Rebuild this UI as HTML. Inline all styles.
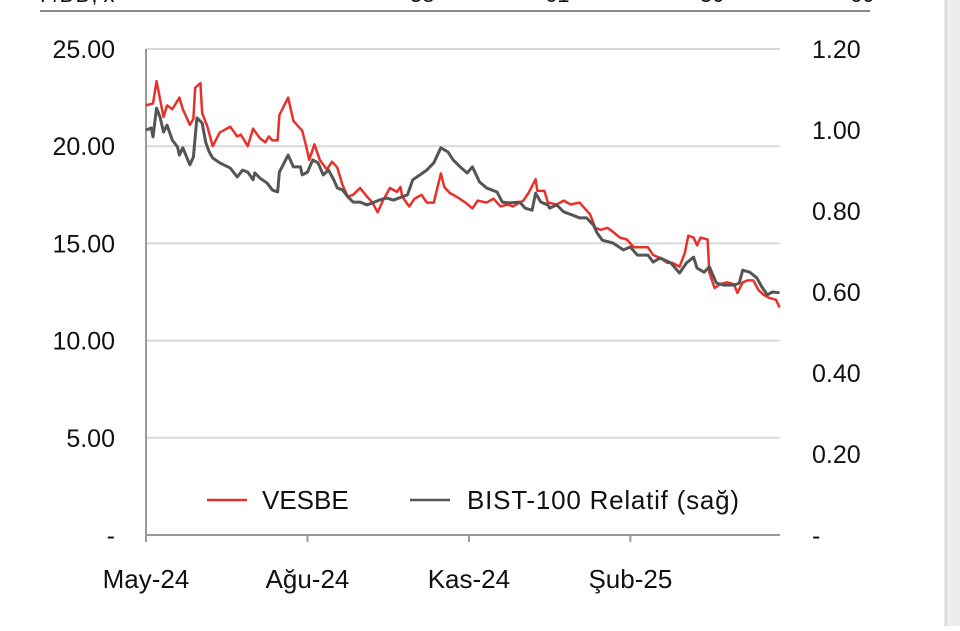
<!DOCTYPE html>
<html><head><meta charset="utf-8"><style>
body{margin:0;background:#fff;}
svg text{font-family:"Liberation Sans",sans-serif;fill:#111;}
</style></head><body>
<svg width="960" height="626" viewBox="0 0 960 626" xmlns="http://www.w3.org/2000/svg">
<text x="40" y="2" font-size="22">F/DD, x</text>
<text x="410" y="2" font-size="22">58</text>
<text x="545" y="2" font-size="22">61</text>
<text x="700" y="2" font-size="22">50</text>
<text x="850" y="2" font-size="22">60</text>
<line x1="40" y1="11" x2="870" y2="11" stroke="#888" stroke-width="2"/>
<rect x="944" y="0" width="16" height="626" fill="#ececec"/>
<line x1="946" y1="0" x2="946" y2="626" stroke="#c8c8c8" stroke-width="1"/>
<g id="grid"></g><g id="axes"></g><g id="series"></g>
<g>
<line x1="207" y1="500" x2="247" y2="500" stroke="#e8312a" stroke-width="2.5"/>
<text x="262" y="509" font-size="26">VESBE</text>
<line x1="410" y1="500" x2="450" y2="500" stroke="#555" stroke-width="2.5"/>
<text x="467" y="509" font-size="26" textLength="272">BIST-100 Relatif (sağ)</text>
</g>
</svg>
<script>
const leftTicks=[0,5,10,15,20,25];
const leftTickLabels=["-","5.00","10.00","15.00","20.00","25.00"];
const rightTicks=[0,0.2,0.4,0.6,0.8,1.0,1.2];
const rightTickLabels=["-","0.20","0.40","0.60","0.80","1.00","1.20"];
const xTickDays=[0,92,184,276];
const xTickLabels=["May-24","Ağu-24","Kas-24","Şub-25"];
const vesbeDays=[0,4,6,10,12,15,19,21,25,27,28,31,32,35,38,42,48,52,54,58,61,65,68,70,72,75,76,81,84,89,91,93,96,99,103,106,109,112,115,118,122,126,129,132,135,139,143,145,146,150,153,157,160,164,168,170,173,177,182,186,189,194,198,202,206,209,215,218,222,223,227,229,234,238,242,247,250,253,256,259,263,266,270,274,278,282,286,289,293,297,300,304,307,309,312,314,316,320,321,324,327,331,335,337,340,343,346,349,352,355,359,361];
const vesbeValues=[22.1,22.2,23.35,21.5,22.1,21.9,22.5,21.9,21.1,21.4,23.0,23.25,21.7,21.0,20.0,20.7,21.0,20.5,20.6,20.0,20.9,20.4,20.2,20.5,20.3,20.3,21.6,22.5,21.3,20.8,20.1,19.3,20.1,19.3,18.8,19.2,18.9,18.0,17.4,17.5,17.85,17.4,17.1,16.6,17.2,17.85,17.65,17.9,17.4,16.9,17.3,17.5,17.1,17.1,18.6,17.9,17.6,17.4,17.1,16.8,17.2,17.1,17.3,16.9,17.0,16.9,17.2,17.6,18.3,17.7,17.7,17.1,17.0,17.2,17.0,17.1,16.8,16.5,15.8,15.7,15.8,15.6,15.3,15.2,14.8,14.8,14.8,14.4,14.25,14.0,14.0,13.8,14.5,15.4,15.3,14.9,15.3,15.2,13.5,12.7,12.9,13.0,12.9,12.45,13.0,13.1,13.1,12.6,12.35,12.2,12.1,11.7];
const bistDays=[0,3,4,6,8,10,12,15,18,19,21,25,27,29,32,34,36,38,42,48,52,55,58,61,62,65,69,72,75,76,81,84,88,89,92,95,98,101,104,107,109,112,115,118,122,126,129,133,137,141,146,149,152,156,160,164,168,172,175,179,183,186,190,194,200,203,207,213,216,220,222,225,229,230,234,238,243,247,251,255,257,260,266,272,276,280,286,289,293,299,304,308,312,314,318,321,325,329,335,338,340,344,348,351,354,357,361];
const bistValues=[1.00,1.005,0.983,1.054,1.032,0.995,1.012,0.975,0.958,0.938,0.956,0.914,0.933,1.030,1.017,0.970,0.946,0.931,0.919,0.906,0.884,0.901,0.896,0.877,0.894,0.881,0.869,0.852,0.847,0.896,0.938,0.909,0.909,0.889,0.896,0.926,0.919,0.889,0.901,0.877,0.857,0.852,0.835,0.822,0.822,0.815,0.820,0.827,0.832,0.827,0.835,0.840,0.877,0.889,0.901,0.919,0.956,0.946,0.926,0.909,0.894,0.909,0.872,0.857,0.847,0.822,0.820,0.822,0.807,0.802,0.844,0.822,0.815,0.807,0.815,0.798,0.790,0.783,0.783,0.765,0.746,0.728,0.721,0.704,0.711,0.691,0.691,0.674,0.684,0.672,0.647,0.672,0.686,0.659,0.649,0.662,0.622,0.617,0.617,0.622,0.654,0.649,0.635,0.612,0.593,0.600,0.598];

const NS="http://www.w3.org/2000/svg";
const X0=146,PXD=1.755,Y0=535,TOP=49;
const xS=d=>X0+d*PXD;
const yL=v=>Y0-(v/25)*(Y0-TOP);
const yR=v=>Y0-(v/1.2)*(Y0-TOP);
function mk(tag,attrs,parent){const e=document.createElementNS(NS,tag);for(const k in attrs)e.setAttribute(k,attrs[k]);parent.appendChild(e);return e;}
const grid=document.getElementById('grid'),axes=document.getElementById('axes'),series=document.getElementById('series');
leftTicks.forEach((t,i)=>{
  if(t>0){const g=mk('line',{x1:X0,x2:780,y1:yL(t),y2:yL(t),stroke:'#d9d9d9','stroke-width':2},grid);
  
  }
  const tx=mk('text',{x:115,y:yL(t)+9,'font-size':25,'text-anchor':'end'},axes);tx.textContent=leftTickLabels[i];
  
  
});
rightTicks.forEach((t,i)=>{
  const tx=mk('text',{x:812,y:yR(t)+9,'font-size':25},axes);tx.textContent=rightTickLabels[i];
  
  
});
const ya=mk('line',{x1:X0,x2:X0,y1:TOP,y2:541,stroke:'#999','stroke-width':2},axes);


const xa=mk('line',{x1:X0,x2:780,y1:Y0,y2:Y0,stroke:'#999','stroke-width':2},axes);


xTickDays.forEach((d,i)=>{
  const tk=mk('line',{x1:xS(d),x2:xS(d),y1:Y0,y2:542,stroke:'#999','stroke-width':2},axes);
  
  
  const tx=mk('text',{x:xS(d),y:588,'font-size':26,'text-anchor':'middle'},axes);tx.textContent=xTickLabels[i];
  
  
});
const pr=mk('polyline',{points:vesbeDays.map((d,i)=>xS(d)+','+yL(vesbeValues[i])).join(' '),fill:'none',stroke:'#e8312a','stroke-width':2.5,'stroke-linejoin':'round'},series);


const pb=mk('polyline',{points:bistDays.map((d,i)=>xS(d)+','+yR(bistValues[i])).join(' '),fill:'none',stroke:'#555','stroke-width':3,'stroke-linejoin':'round'},series);


</script>
</body></html>
